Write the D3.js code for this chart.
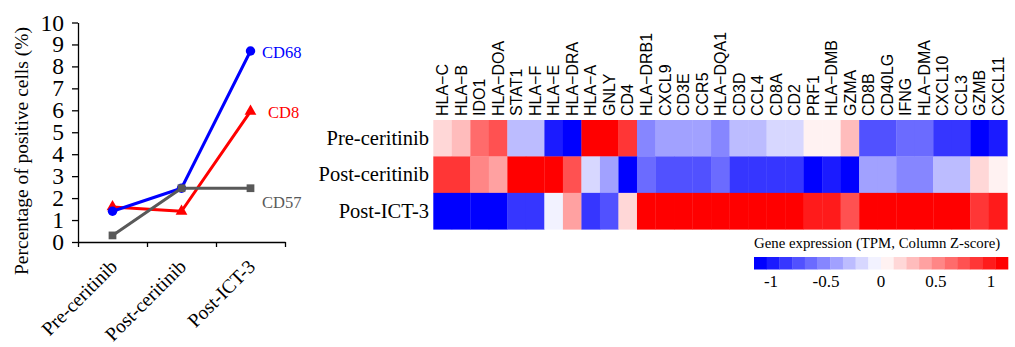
<!DOCTYPE html>
<html><head><meta charset="utf-8">
<script src="https://cdn.jsdelivr.net/npm/d3@7"></script>
<style>
html,body{margin:0;padding:0;background:#fff;}
svg{display:block;}
</style>
</head><body>
<svg id="chart" width="1015" height="347"></svg>
<script>
// ---------- Line chart data ----------
const categories = ["Pre-ceritinib", "Post-ceritinib", "Post-ICT-3"];
const cd68 = [1.4, 2.45, 8.7];
const cd8 = [1.6, 1.4, 5.95];
const cd57 = [0.3, 2.45, 2.45];
const yTicks = [0, 1, 2, 3, 4, 5, 6, 7, 8, 9, 10];
const seriesNames = ["CD8", "CD68", "CD57"];

// ---------- Heatmap data ----------
const genes = ["HLA\u2212C","HLA\u2212B","IDO1","HLA\u2212DOA","STAT1","HLA\u2212F","HLA\u2212E","HLA\u2212DRA","HLA\u2212A","GNLY","CD4","HLA\u2212DRB1","CXCL9","CD3E","CCR5","HLA\u2212DQA1","CD3D","CCL4","CD8A","CD2","PRF1","HLA\u2212DMB","GZMA","CD8B","CD40LG","IFNG","HLA\u2212DMA","CXCL10","CCL3","GZMB","CXCL11"];
const rowLabels = ["Pre-ceritinib", "Post-ceritinib", "Post-ICT-3"];
const zPre = [0.17,0.29,0.64,0.75,-0.29,-0.29,-0.98,-1.12,1.12,1.12,0.87,-0.52,-0.40,-0.40,-0.40,-0.52,-0.29,-0.29,-0.17,-0.17,0.06,0.06,0.29,-0.75,-0.75,-0.64,-0.64,-0.87,-0.87,-1.12,-0.98];
const zPost = [0.87,0.87,0.52,0.40,1.12,1.12,1.12,0.75,-0.17,-0.40,-1.12,-0.64,-0.75,-0.75,-0.75,-0.64,-0.87,-0.87,-0.87,-0.87,-1.12,-0.98,-1.12,-0.40,-0.40,-0.52,-0.52,-0.29,-0.29,0.17,0.06];
const zICT = [-1.12,-1.12,-1.12,-1.12,-0.87,-0.87,-0.06,0.40,-0.87,-0.75,0.17,1.12,1.12,1.12,1.12,1.12,1.12,1.12,1.12,1.12,0.98,0.98,0.75,1.12,1.12,1.12,1.12,1.12,1.12,0.87,0.98];
const legendTicks = [-1, -0.5, 0, 0.5, 1];
const legendTitle = "Gene expression (TPM, Column Z-score)";

const svg = d3.select("#chart");
const serif = "'Liberation Serif','Times New Roman',serif";
const sans = "'Liberation Sans',Arial,sans-serif";

// ================= LINE CHART =================
const x = d3.scalePoint().domain(categories).range([78, 285]).padding(0.5);
const xEdge = d3.scaleLinear().domain([0, 3]).range([78, 285]);
const y = d3.scaleLinear().domain([0, 10]).range([242, 22.5]);

const gx = svg.append("g").attr("transform", "translate(0,242)")
  .call(d3.axisBottom(xEdge).tickValues([0,1,2,3]).tickFormat("").tickSize(5).tickSizeOuter(0));
gx.selectAll("path,line").attr("stroke", "#000").attr("stroke-width", 1.3);

const gy = svg.append("g").attr("transform", "translate(78,0)")
  .call(d3.axisLeft(y).tickValues(yTicks).tickFormat(d3.format("d")).tickSize(6).tickSizeOuter(0).tickPadding(8));
gy.selectAll("path,line").attr("stroke", "#000").attr("stroke-width", 1.3);
gy.selectAll("text").attr("font-family", serif).attr("font-size", 23.5).attr("fill", "#000");

// x labels rotated
svg.append("g").selectAll("text").data(categories).join("text")
  .attr("transform", d => `translate(${x(d)+1},263) rotate(-45)`)
  .attr("text-anchor", "end").attr("dy", "0.35em")
  .attr("font-family", serif).attr("font-size", 19.5).attr("fill", "#000")
  .text(d => d);

// y title
svg.append("text")
  .attr("transform", "translate(21,151) rotate(-90)")
  .attr("text-anchor", "middle").attr("dy", "0.35em")
  .attr("font-family", serif).attr("font-size", 19.5).attr("fill", "#000")
  .text("Percentage of positive cells (%)");

const series = [
  {name: "CD8", values: cd8, color: "#ff0000", shape: d3.symbolTriangle, size: 60, lx: 268, ly: 112},
  {name: "CD68", values: cd68, color: "#0000ff", shape: d3.symbolCircle, size: 70, lx: 262, ly: 52},
  {name: "CD57", values: cd57, color: "#595959", shape: d3.symbolSquare, size: 60, lx: 262, ly: 202}
];
const line = d3.line().x((d, i) => x(categories[i])).y(d => y(d));
series.forEach(s => {
  const g = svg.append("g");
  g.append("path").attr("d", line(s.values)).attr("fill", "none")
    .attr("stroke", s.color).attr("stroke-width", 3).attr("stroke-linejoin", "round");
  g.selectAll("path.m").data(s.values).join("path").attr("class", "m")
    .attr("transform", (d, i) => `translate(${x(categories[i])},${y(d)})`)
    .attr("d", d3.symbol().type(s.shape).size(s.size)).attr("fill", s.color);
});
series.forEach(s => {
  svg.append("text").attr("x", s.lx).attr("y", s.ly).attr("dy", "0.35em")
    .attr("font-family", serif).attr("font-size", 16.5).attr("fill", s.color).text(s.name);
});

// ================= HEATMAP =================
const rows = [zPre, zPost, zICT];
const hx = d3.scaleBand().domain(genes).range([433.3, 1007.3]);
const hy = d3.scaleBand().domain(rowLabels).range([120, 229.3]);
const zMax = 2 / Math.sqrt(3);
const ramp = d3.piecewise(d3.interpolateRgb, ["#0000ff", "#ffffff", "#ff0000"]);
const colors20 = d3.range(20).map(i => ramp(i / 19));
const color = d3.scaleQuantize().domain([-zMax, zMax]).range(colors20);

const cells = [];
rows.forEach((r, ri) => r.forEach((v, ci) => cells.push({row: rowLabels[ri], gene: genes[ci], v})));
svg.append("g").selectAll("rect").data(cells).join("rect")
  .attr("x", d => hx(d.gene)).attr("y", d => hy(d.row))
  .attr("width", hx.bandwidth() + 0.3).attr("height", hy.bandwidth() + 0.3)
  .attr("fill", d => color(d.v));

// column labels
svg.append("g").selectAll("text").data(genes).join("text")
  .attr("transform", d => `translate(${hx(d) + hx.bandwidth()/2},116) rotate(-90)`)
  .attr("dy", "0.36em")
  .attr("font-family", sans).attr("font-size", 16).attr("fill", "#000")
  .text(d => d);

// row labels
svg.append("g").selectAll("text").data(rowLabels).join("text")
  .attr("x", 429).attr("y", d => hy(d) + hy.bandwidth()/2).attr("dy", "0.33em")
  .attr("text-anchor", "end")
  .attr("font-family", serif).attr("font-size", 20.5).attr("fill", "#000")
  .text(d => d);

// ================= LEGEND =================
const lx = d3.scaleLinear().domain([-zMax, zMax]).range([754, 1008]);
const step = 2 * zMax / 20;
svg.append("g").selectAll("rect").data(colors20).join("rect")
  .attr("x", (c, i) => lx(-zMax + i * step)).attr("y", 257)
  .attr("width", lx(step) - lx(0) + 0.3).attr("height", 12.5)
  .attr("fill", c => c);
svg.append("text").attr("x", 754).attr("y", 248)
  .attr("font-family", serif).attr("font-size", 14.8).attr("fill", "#000")
  .text(legendTitle);
svg.append("g").selectAll("text").data(legendTicks).join("text")
  .attr("x", d => lx(d)).attr("y", 287).attr("text-anchor", "middle")
  .attr("font-family", serif).attr("font-size", 17).attr("fill", "#000")
  .text(d => String(d));
</script>
</body></html>
